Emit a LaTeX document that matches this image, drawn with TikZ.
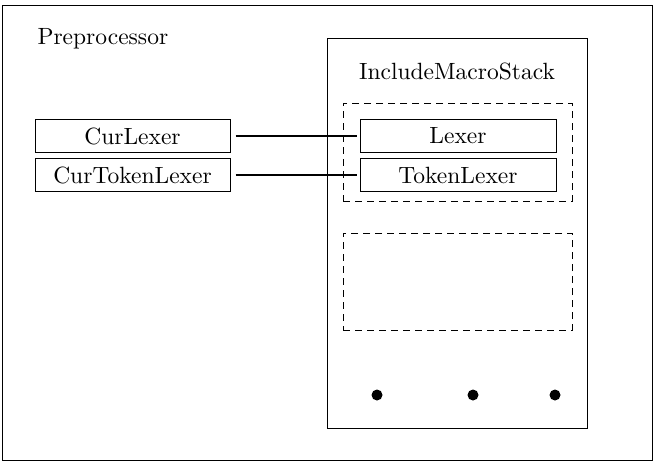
\documentclass[tikz,border=0pt]{standalone}
\usepackage{fontspec}
\newfontfamily\diagfont{lmroman10-regular.otf}
\usetikzlibrary{positioning}
\begin{document}
\begin{tikzpicture}[
        x=1pt, y=-1pt,
        every node/.style={font=\diagfont\fontsize{23.5}{25}\selectfont},
        box/.style={draw, rectangle, line width=1pt, minimum width=195pt, minimum height=33pt, inner sep=0pt},
        frame/.style={draw, line width=1pt},
        slot/.style={draw, line width=1pt, dash pattern=on 7pt off 5pt, minimum width=229pt, inner sep=0pt},
        link/.style={draw, line width=2pt, shorten <=5pt, shorten >=3pt},
        dot/.style={fill, circle, inner sep=0pt, minimum size=11pt},
    ]
    \useasboundingbox (0,0) rectangle (658,466);
    \draw[frame] (2,5) rectangle (652,460);
    \node[anchor=base west] (pre) at (34,44) {Preprocessor};

    \node[box] (curlexer) at (132.5,136) {CurLexer};
    \node[box, below=5pt of curlexer] (curtoklexer) {CurTokenLexer};

    \draw[frame] (327,38) rectangle (587,428);
    \node[anchor=base] (stack) at (457,79) {IncludeMacroStack};
    \node[slot, minimum height=98pt] (slota) at (457.5,152) {};
    \node[slot, minimum height=97pt] (slotb) at (457.5,281.5) {};
    \node[box, minimum width=196pt] (lexer) at (458,136) {Lexer};
    \node[box, minimum width=196pt, below=5pt of lexer] (toklexer) {TokenLexer};

    \draw[link] (curlexer) -- (lexer);
    \draw[link] (curtoklexer) -- (toklexer);

    \node[dot] (d1) at (377,395) {};
    \node[dot] (d2) at (473,395) {};
    \node[dot] (d3) at (555,395) {};
\end{tikzpicture}
\end{document}
